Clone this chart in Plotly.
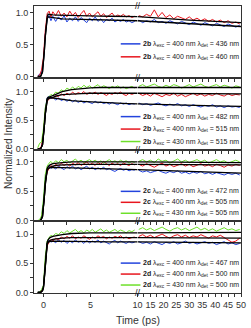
import plotly.graph_objects as go
from plotly.subplots import make_subplots

# ---------------- data ----------------
t_left = [-0.6, -0.4, -0.2, 0.0, 0.2, 0.4, 0.6, 0.8, 1.0, 1.3, 1.6, 1.9, 2.2, 2.5, 2.8, 3.1, 3.4, 3.7, 4.0,
          4.3, 4.6, 4.9, 5.2, 5.5, 5.8, 6.1, 6.4, 6.7, 7.0, 7.3, 7.6, 7.9, 8.2, 8.5, 8.8, 9.1, 9.4, 9.7]
t_right = [10.5, 12, 13.5, 15, 16.5, 18, 19.5, 21, 22.5, 24, 25.5, 27, 28.5, 30, 31.5, 33, 34.5, 36, 37.5,
           39, 40.5, 42, 43.5, 45, 46.5, 48, 49.5]
tf_left = [-0.6, -0.3, -0.1, 0.0, 0.1, 0.2, 0.3, 0.4, 0.5, 0.7, 1.0, 1.5, 2.0, 3.0, 4.0, 5.0, 6.0, 7.0, 8.0, 9.0, 10.0]
tf_right = [10, 20, 30, 40, 50]

# panel 1 : 2b 400/436 (blue), 400/460 (red)
p1_blue_L = [0.01, 0.03, 0.06, 0.22, 0.66, 0.90, 0.95, 0.87, 0.94, 0.86, 0.93, 0.88, 0.95, 0.85, 0.91, 0.87, 0.93, 0.86, 0.92,
             0.88, 0.84, 0.91, 0.87, 0.93, 0.86, 0.90, 0.84, 0.89, 0.87, 0.91, 0.85, 0.88, 0.86, 0.89, 0.85, 0.87, 0.84, 0.86]
p1_red_L = [0.00, 0.02, 0.10, 0.30, 0.72, 0.98, 1.02, 0.93, 1.01, 0.95, 1.03, 0.94, 0.99, 0.93, 1.02, 0.95, 1.00, 0.92, 0.98,
            1.03, 0.94, 0.99, 0.93, 0.97, 1.01, 0.94, 0.98, 0.92, 0.96, 0.99, 0.93, 0.96, 0.94, 0.97, 0.93, 0.95, 0.92, 0.94]
p1_blue_R = [0.88, 0.84, 0.87, 0.85, 0.89, 0.84, 0.86, 0.83, 0.87, 0.85, 0.82, 0.86, 0.84, 0.81, 0.85, 0.83, 0.80, 0.84, 0.82,
             0.79, 0.83, 0.81, 0.78, 0.82, 0.79, 0.77, 0.80]
p1_red_R = [0.95, 0.93, 0.97, 0.94, 1.04, 0.93, 1.00, 0.92, 0.96, 0.90, 0.94, 0.91, 0.89, 0.93, 0.88, 0.91, 0.87, 0.90, 0.86,
            0.89, 0.85, 0.88, 0.84, 0.87, 0.83, 0.85, 0.82]
p1_blue_fitL = [0.0, 0.0, 0.07, 0.2, 0.4, 0.62, 0.8, 0.9, 0.93, 0.925, 0.92, 0.91, 0.90, 0.895, 0.89, 0.885, 0.88, 0.878, 0.875, 0.872, 0.87]
p1_red_fitL = [0.0, 0.0, 0.07, 0.2, 0.4, 0.63, 0.82, 0.93, 0.97, 0.965, 0.96, 0.958, 0.955, 0.952, 0.948, 0.945, 0.943, 0.94, 0.938, 0.936, 0.935]
p1_blue_fitR = [0.87, 0.845, 0.82, 0.80, 0.78]
p1_red_fitR = [0.935, 0.905, 0.88, 0.86, 0.84]

# panel 2 : 2b 400/482 (blue), 400/515 (red), 430/515 (green)
p2_blue_L = [0.00, 0.00, 0.03, 0.25, 0.70, 0.89, 0.92, 0.87, 0.90, 0.85, 0.89, 0.84, 0.87, 0.83, 0.86, 0.82, 0.85, 0.81, 0.84,
             0.80, 0.83, 0.81, 0.79, 0.83, 0.80, 0.82, 0.79, 0.81, 0.78, 0.81, 0.79, 0.77, 0.80, 0.78, 0.80, 0.77, 0.79, 0.78]
p2_red_L = [0.00, 0.01, 0.05, 0.28, 0.68, 0.84, 0.86, 0.90, 0.88, 0.93, 0.91, 0.96, 0.93, 0.97, 0.94, 0.99, 0.95, 0.98, 0.96,
            1.00, 0.95, 0.98, 0.96, 0.99, 0.95, 0.98, 0.96, 0.93, 0.97, 0.95, 0.98, 0.96, 0.99, 0.95, 0.93, 0.97, 0.95, 0.97]
p2_green_L = [0.02, 0.10, 0.12, 0.35, 0.72, 0.87, 0.91, 0.95, 0.93, 0.99, 0.97, 1.03, 1.00, 1.06, 1.03, 1.08, 1.04, 1.09, 1.06,
              1.11, 1.07, 1.10, 1.06, 1.09, 1.12, 1.07, 1.10, 1.08, 1.05, 1.09, 1.07, 1.10, 1.06, 1.08, 1.05, 1.07, 1.09, 1.06]
p2_blue_R = [0.80, 0.77, 0.79, 0.76, 0.78, 0.80, 0.77, 0.75, 0.78, 0.76, 0.79, 0.75, 0.77, 0.74, 0.77, 0.75, 0.73, 0.76, 0.74,
             0.77, 0.73, 0.75, 0.72, 0.75, 0.73, 0.74, 0.72]
p2_red_R = [0.97, 0.93, 0.96, 0.92, 0.97, 0.94, 0.91, 0.95, 0.93, 0.97, 0.92, 0.95, 0.91, 0.94, 0.97, 0.93, 0.96, 0.92, 0.95,
            0.93, 0.97, 0.94, 0.92, 0.96, 0.93, 0.95, 0.94]
p2_green_R = [1.09, 1.12, 1.08, 1.11, 1.13, 1.09, 1.07, 1.11, 1.08, 1.12, 1.10, 1.06, 1.09, 1.12, 1.08, 1.10, 1.13, 1.09, 1.07,
              1.10, 1.12, 1.08, 1.11, 1.09, 1.06, 1.10, 1.08]
p2_blue_fitL = [0.0, 0.0, 0.07, 0.2, 0.4, 0.62, 0.8, 0.88, 0.90, 0.895, 0.88, 0.87, 0.86, 0.84, 0.83, 0.82, 0.81, 0.80, 0.795, 0.79, 0.785]
p2_red_fitL = [0.0, 0.0, 0.07, 0.2, 0.4, 0.6, 0.76, 0.85, 0.87, 0.89, 0.90, 0.93, 0.945, 0.96, 0.965, 0.97, 0.97, 0.97, 0.97, 0.97, 0.97]
p2_green_fitL = [0.0, 0.0, 0.07, 0.2, 0.4, 0.6, 0.76, 0.85, 0.88, 0.91, 0.93, 0.97, 1.00, 1.035, 1.055, 1.065, 1.07, 1.07, 1.07, 1.07, 1.07]
p2_blue_fitR = [0.785, 0.77, 0.76, 0.75, 0.74]
p2_red_fitR = [0.97, 0.967, 0.965, 0.962, 0.96]
p2_green_fitR = [1.07, 1.07, 1.07, 1.07, 1.07]

# panel 3 : 2c 400/472 (blue), 400/505 (red), 430/505 (green)
p3_blue_L = [0.00, 0.00, 0.05, 0.30, 0.72, 0.88, 0.93, 0.88, 0.91, 0.87, 0.92, 0.89, 0.86, 0.91, 0.88, 0.92, 0.87, 0.90, 0.86,
             0.89, 0.92, 0.87, 0.90, 0.86, 0.89, 0.87, 0.90, 0.86, 0.88, 0.85, 0.83, 0.86, 0.88, 0.85, 0.87, 0.84, 0.86, 0.85]
p3_red_L = [0.00, 0.00, 0.04, 0.26, 0.66, 0.82, 0.88, 0.93, 0.90, 0.95, 0.92, 0.97, 0.93, 0.96, 0.92, 0.97, 0.94, 0.98, 0.93,
            0.96, 0.99, 0.94, 0.97, 0.93, 0.98, 0.95, 1.00, 0.96, 0.93, 0.97, 0.94, 0.96, 0.93, 0.97, 0.95, 0.93, 0.96, 0.94]
p3_green_L = [0.00, 0.02, 0.08, 0.36, 0.78, 0.92, 0.97, 1.00, 0.96, 1.01, 0.98, 1.03, 0.99, 1.02, 0.97, 1.01, 1.04, 0.99, 1.02,
              0.98, 1.01, 1.03, 0.99, 1.02, 0.98, 1.01, 0.97, 1.00, 1.03, 0.99, 1.01, 0.98, 1.02, 0.99, 1.01, 0.97, 1.00, 0.98]
p3_blue_R = [0.85, 0.82, 0.84, 0.81, 0.83, 0.85, 0.82, 0.80, 0.83, 0.81, 0.84, 0.80, 0.82, 0.79, 0.82, 0.80, 0.83, 0.79, 0.81,
             0.78, 0.81, 0.79, 0.77, 0.80, 0.78, 0.80, 0.77]
p3_red_R = [0.95, 0.92, 0.96, 0.93, 0.90, 0.94, 0.97, 0.92, 0.95, 0.91, 0.94, 0.96, 0.92, 0.95, 0.91, 0.93, 0.96, 0.92, 0.94,
            0.91, 0.95, 0.93, 0.90, 0.94, 0.92, 0.95, 0.93]
p3_green_R = [1.00, 1.03, 0.99, 1.02, 0.98, 1.04, 1.00, 1.02, 0.97, 1.01, 1.04, 0.99, 1.02, 0.98, 1.01, 1.03, 0.99, 1.02, 0.97,
              1.00, 1.03, 0.99, 1.01, 0.97, 1.00, 1.02, 0.99]
p3_blue_fitL = [0.0, 0.0, 0.07, 0.2, 0.4, 0.62, 0.79, 0.86, 0.88, 0.895, 0.90, 0.898, 0.895, 0.89, 0.885, 0.88, 0.875, 0.87, 0.866, 0.863, 0.86]
p3_red_fitL = [0.0, 0.0, 0.07, 0.2, 0.4, 0.6, 0.76, 0.85, 0.88, 0.90, 0.92, 0.935, 0.94, 0.95, 0.95, 0.95, 0.95, 0.95, 0.95, 0.95, 0.95]
p3_green_fitL = [0.0, 0.0, 0.07, 0.2, 0.42, 0.65, 0.81, 0.88, 0.91, 0.94, 0.96, 0.975, 0.98, 0.99, 0.99, 0.99, 0.99, 0.99, 0.99, 0.99, 0.99]
p3_blue_fitR = [0.86, 0.845, 0.83, 0.815, 0.80]
p3_red_fitR = [0.95, 0.947, 0.945, 0.942, 0.94]
p3_green_fitR = [0.99, 0.988, 0.985, 0.983, 0.98]

# panel 4 : 2d 400/467 (blue), 400/500 (red), 430/500 (green)
p4_blue_L = [0.00, 0.01, 0.04, 0.07, 0.55, 0.84, 0.90, 0.86, 0.89, 0.85, 0.90, 0.86, 0.89, 0.84, 0.88, 0.85, 0.90, 0.86, 0.88,
             0.84, 0.89, 0.85, 0.88, 0.86, 0.90, 0.85, 0.88, 0.86, 0.83, 0.87, 0.89, 0.85, 0.88, 0.86, 0.84, 0.87, 0.85, 0.86]
p4_red_L = [0.00, 0.00, 0.03, 0.08, 0.52, 0.80, 0.86, 0.91, 0.88, 0.93, 0.90, 0.95, 0.92, 0.96, 0.93, 0.97, 0.92, 0.95, 0.93,
            0.97, 0.94, 0.91, 0.95, 0.93, 0.97, 0.94, 0.96, 0.92, 0.95, 0.93, 0.96, 0.94, 0.97, 0.93, 0.95, 0.92, 0.94, 0.95]
p4_green_L = [0.00, 0.01, 0.05, 0.12, 0.62, 0.88, 0.94, 0.98, 0.96, 1.01, 0.99, 1.04, 1.01, 1.06, 1.02, 1.05, 1.08, 1.03, 1.06,
              1.02, 1.07, 1.04, 1.08, 1.03, 1.06, 1.09, 1.04, 1.07, 1.03, 1.06, 1.08, 1.04, 1.07, 1.05, 1.02, 1.06, 1.04, 1.07]
p4_blue_R = [0.87, 0.84, 0.86, 0.83, 0.87, 0.85, 0.82, 0.86, 0.84, 0.87, 0.83, 0.85, 0.88, 0.84, 0.86, 0.83, 0.85, 0.87, 0.84,
             0.86, 0.82, 0.85, 0.87, 0.83, 0.85, 0.82, 0.84]
p4_red_R = [0.96, 0.99, 0.95, 0.98, 0.94, 0.97, 1.00, 0.96, 0.93, 0.97, 0.99, 0.95, 0.98, 0.94, 0.97, 0.95, 0.99, 0.96, 0.93,
            0.97, 0.95, 0.98, 0.94, 0.90, 0.86, 0.88, 0.93]
p4_green_R = [1.08, 1.11, 1.07, 1.10, 1.06, 1.09, 1.12, 1.08, 1.05, 1.09, 1.11, 1.07, 1.10, 1.06, 1.09, 1.12, 1.07, 1.10, 1.06,
              1.09, 1.05, 1.08, 1.11, 1.07, 1.09, 1.06, 1.08]
p4_blue_fitL = [0.0, 0.0, 0.03, 0.08, 0.25, 0.5, 0.72, 0.84, 0.86, 0.875, 0.88, 0.88, 0.878, 0.875, 0.872, 0.87, 0.869, 0.868, 0.867, 0.866, 0.865]
p4_red_fitL = [0.0, 0.0, 0.03, 0.08, 0.24, 0.48, 0.69, 0.82, 0.86, 0.89, 0.91, 0.925, 0.93, 0.94, 0.94, 0.94, 0.94, 0.94, 0.94, 0.94, 0.94]
p4_green_fitL = [0.0, 0.0, 0.03, 0.09, 0.27, 0.53, 0.74, 0.86, 0.90, 0.94, 0.96, 0.98, 0.99, 1.01, 1.02, 1.02, 1.02, 1.02, 1.02, 1.02, 1.02]
p4_blue_fitR = [0.865, 0.86, 0.857, 0.853, 0.85]
p4_red_fitR = [0.94, 0.938, 0.935, 0.933, 0.93]
p4_green_fitR = [1.02, 1.025, 1.03, 1.03, 1.03]

y_ranges = [[-0.02, 1.1], [-0.01, 1.24], [-0.01, 1.2], [-0.01, 1.22]]

legend_labels = [
    [("2b", "400", "436"), ("2b", "400", "460")],
    [("2b", "400", "482"), ("2b", "400", "515"), ("2b", "430", "515")],
    [("2c", "400", "472"), ("2c", "400", "505"), ("2c", "430", "505")],
    [("2d", "400", "467"), ("2d", "400", "500"), ("2d", "430", "500")],
]

BLUE = "#2343dd"
RED = "#e8161e"
GREEN = "#6ee02a"

panels = [
    [(p1_blue_L, p1_blue_R, p1_blue_fitL, p1_blue_fitR, BLUE),
     (p1_red_L, p1_red_R, p1_red_fitL, p1_red_fitR, RED)],
    [(p2_blue_L, p2_blue_R, p2_blue_fitL, p2_blue_fitR, BLUE),
     (p2_red_L, p2_red_R, p2_red_fitL, p2_red_fitR, RED),
     (p2_green_L, p2_green_R, p2_green_fitL, p2_green_fitR, GREEN)],
    [(p3_blue_L, p3_blue_R, p3_blue_fitL, p3_blue_fitR, BLUE),
     (p3_red_L, p3_red_R, p3_red_fitL, p3_red_fitR, RED),
     (p3_green_L, p3_green_R, p3_green_fitL, p3_green_fitR, GREEN)],
    [(p4_blue_L, p4_blue_R, p4_blue_fitL, p4_blue_fitR, BLUE),
     (p4_red_L, p4_red_R, p4_red_fitL, p4_red_fitR, RED),
     (p4_green_L, p4_green_R, p4_green_fitL, p4_green_fitR, GREEN)],
]

# legend row centre positions (pixels from top of page)
legend_rows_px = [[43, 56], [116, 128.5, 141], [191, 202, 213], [263, 274, 285]]

# ---------------- figure ----------------
W, H = 251, 328
ML, MR, MT, MB = 34, 7, 5, 35
PW, PH = W - ML - MR, H - MT - MB

fig = make_subplots(rows=4, cols=2, horizontal_spacing=0.0, vertical_spacing=0.0)

for r, series in enumerate(panels, start=1):
    for (yl, yr, fl, fr, col) in series:
        fig.add_trace(go.Scatter(x=t_left, y=yl, mode="lines", line=dict(color=col, width=1),
                                 showlegend=False), row=r, col=1)
        fig.add_trace(go.Scatter(x=t_right, y=yr, mode="lines", line=dict(color=col, width=1),
                                 showlegend=False), row=r, col=2)
    for (yl, yr, fl, fr, col) in series:
        fig.add_trace(go.Scatter(x=tf_left, y=fl, mode="lines", line=dict(color="black", width=1.3),
                                 showlegend=False), row=r, col=1)
        fig.add_trace(go.Scatter(x=tf_right, y=fr, mode="lines", line=dict(color="black", width=1.3),
                                 showlegend=False), row=r, col=2)

AX = "#333333"
tick_font = dict(family="Liberation Sans, Arial, sans-serif", size=9, color="#333333")
minor_x = dict(dtick=2.5, ticks="outside", ticklen=3, tickcolor=AX, tickwidth=1)
for r in range(1, 5):
    last = (r == 4)
    fig.update_xaxes(row=r, col=1, range=[-1, 10], showgrid=False, zeroline=False,
                     showline=True, linecolor=AX, linewidth=1, mirror=True,
                     ticks="outside", ticklen=3, tickcolor=AX, tickwidth=1,
                     tick0=0, dtick=5, minor=dict(tick0=0, **minor_x),
                     showticklabels=last, tickfont=tick_font)
    fig.update_xaxes(row=r, col=2, range=[10, 50], showgrid=False, zeroline=False,
                     showline=True, linecolor=AX, linewidth=1, mirror=True,
                     ticks="outside", ticklen=3, tickcolor=AX, tickwidth=1,
                     tickmode="array", tickvals=[15, 20, 25, 30, 35, 40, 45, 50],
                     minor=dict(tick0=10, **minor_x),
                     showticklabels=last, tickfont=tick_font)
    fig.update_yaxes(row=r, col=1, range=y_ranges[r - 1], showgrid=False, zeroline=False,
                     showline=True, linecolor=AX, linewidth=1,
                     ticks="outside", ticklen=3, tickcolor=AX, tickwidth=1,
                     tickmode="array", tickvals=[0, 0.5, 1.0], ticktext=["0.0", "0.5", "1.0"],
                     minor=dict(tick0=0, dtick=0.25, ticks="outside", ticklen=3, tickcolor=AX, tickwidth=1),
                     tickfont=tick_font)
    fig.update_yaxes(row=r, col=2, range=y_ranges[r - 1], showgrid=False, zeroline=False,
                     showline=True, linecolor=AX, linewidth=1, side="right",
                     ticks="", showticklabels=False)


def px_x(px):
    return (px - ML) / PW


def px_y(py):
    return (H - MB - py) / PH


annotations = []
shapes = []
font_leg = dict(family="Liberation Sans, Arial, sans-serif", size=7, color="#222222")
colors_order = [BLUE, RED, GREEN]
for p, rows in enumerate(legend_rows_px):
    for k, py in enumerate(rows):
        comp, lexc, ldet = legend_labels[p][k]
        shapes.append(dict(type="line", xref="paper", yref="paper",
                           x0=px_x(122), x1=px_x(142), y0=px_y(py), y1=px_y(py),
                           line=dict(color=colors_order[k], width=1.5)))
        annotations.append(dict(xref="paper", yref="paper", x=px_x(143), y=px_y(py),
                                xanchor="left", yanchor="middle", showarrow=False,
                                text=f"<b>{comp}</b> λ<sub>exc</sub> = {lexc} nm λ<sub>det</sub> = {ldet} nm",
                                font=font_leg))

# axis break marks
for py in [5, 77, 149, 221, 293]:
    annotations.append(dict(xref="paper", yref="paper", x=px_x(139.5), y=px_y(py),
                            xanchor="center", yanchor="middle", showarrow=False, text="//",
                            font=dict(family="Liberation Sans, Arial, sans-serif", size=9, color="#222222")))

annotations.append(dict(xref="paper", yref="paper", x=px_x(8), y=px_y(143), textangle=-90,
                        xanchor="center", yanchor="middle", showarrow=False,
                        text="Normalized Intensity",
                        font=dict(family="Liberation Sans, Arial, sans-serif", size=10, color="#333333")))
annotations.append(dict(xref="paper", yref="paper", x=px_x(140), y=px_y(320),
                        xanchor="center", yanchor="middle", showarrow=False,
                        text="Time (ps)",
                        font=dict(family="Liberation Sans, Arial, sans-serif", size=10.5, color="#333333")))

fig.update_layout(width=W, height=H, margin=dict(l=ML, r=MR, t=MT, b=MB, pad=0),
                  paper_bgcolor="white", plot_bgcolor="white", showlegend=False,
                  annotations=annotations, shapes=shapes)

fig.write_html("out.html", config={"displayModeBar": False},
               post_script="document.body.style.margin='0';document.body.style.overflow='hidden';")
